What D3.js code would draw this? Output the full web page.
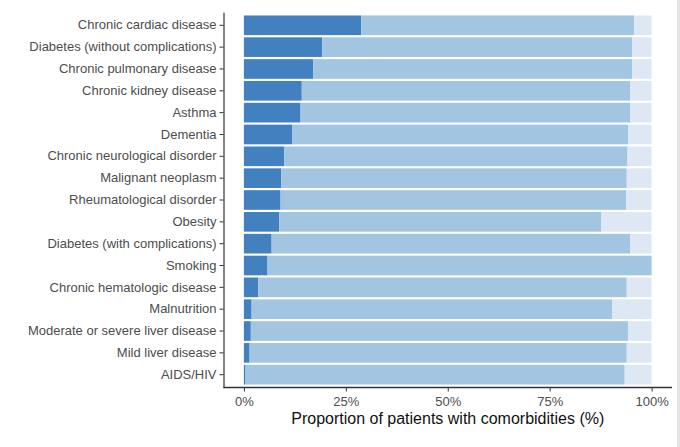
<!DOCTYPE html>
<html>
<head>
<meta charset="utf-8">
<script src="https://cdn.jsdelivr.net/npm/d3@7"></script>
<style>
	body { margin: 0; background: #fff; }
	svg { display: block; font-family: "Liberation Sans", Arial, sans-serif; }
</style>
</head>
<body>
<svg width="680" height="447"></svg>
<script>
// categories, top to bottom
var categories = [
	"Chronic cardiac disease", "Diabetes (without complications)", "Chronic pulmonary disease",
	"Chronic kidney disease", "Asthma", "Dementia", "Chronic neurological disorder",
	"Malignant neoplasm", "Rheumatological disorder", "Obesity", "Diabetes (with complications)",
	"Smoking", "Chronic hematologic disease", "Malnutrition", "Moderate or severe liver disease",
	"Mild liver disease", "AIDS/HIV"
];
// share with the comorbidity (%)
var yesValues = [28.8, 19.2, 17.0, 14.2, 13.9, 11.8, 9.9, 9.2, 9.0, 8.7, 6.8, 5.8, 3.5, 1.9, 1.7, 1.4, 0.4];
// share without it (%)
var noValues = [66.9, 76.0, 78.2, 80.6, 80.9, 82.5, 84.2, 84.7, 84.8, 79.0, 88.0, 94.2, 90.4, 88.4, 92.5, 92.5, 93.0];
// remainder is unknown
var unknownValues = yesValues.map(function (v, i) { return 100 - v - noValues[i]; });
var xTicks = [0, 25, 50, 75, 100];

var svg = d3.select("svg");

// grey strip at the right edge of the screenshot
svg.append("rect").attr("x", 677).attr("y", 0).attr("width", 3).attr("height", 447).attr("fill", "#e4e4e4");

var x = d3.scaleLinear().domain([-5, 105]).range([223.5, 672]);
var y = d3.scaleBand().domain(categories).range([12.2, 387.8]).paddingInner(0.1).paddingOuter(0.15);

var rows = categories.map(function (c, i) {
	var a = yesValues[i], b = a + noValues[i];
	return { cat: c, parts: [
		{ x0: 0, x1: a, color: "#4380c0" },
		{ x0: a, x1: b, color: "#a2c5e1" },
		{ x0: b, x1: b + unknownValues[i], color: "#dee8f5" }
	]};
});

var g = svg.append("g").selectAll("g").data(rows).enter().append("g");
g.selectAll("rect").data(function (d) { return d.parts.map(function (p) { p.cat = d.cat; return p; }); })
	.enter().append("rect")
	.attr("x", function (p) { return x(p.x0); })
	.attr("width", function (p) { return Math.max(0, x(p.x1) - x(p.x0)); })
	.attr("y", function (p) { return y(p.cat); })
	.attr("height", y.bandwidth())
	.attr("fill", function (p) { return p.color; });

// y axis
var yAxis = svg.append("g").attr("transform", "translate(223.5,0)")
	.call(d3.axisLeft(y).tickSize(4).tickSizeOuter(0).tickPadding(3));
yAxis.select(".domain").attr("stroke", "#333").attr("stroke-width", 1.2);
yAxis.selectAll(".tick line").attr("stroke", "#333");
yAxis.selectAll("text").attr("fill", "#4d4d4d").style("font-size", "13px");

// x axis
var xAxis = svg.append("g").attr("transform", "translate(0,387.5)")
	.call(d3.axisBottom(x).tickValues(xTicks).tickSize(4).tickSizeOuter(0).tickPadding(5)
		.tickFormat(function (d) { return d + "%"; }));
xAxis.select(".domain").attr("stroke", "#333").attr("stroke-width", 1.4)
	.attr("d", "M223.5,0H672");
xAxis.selectAll(".tick line").attr("stroke", "#333");
xAxis.selectAll("text").attr("fill", "#4d4d4d").style("font-size", "13px");

svg.append("text")
	.attr("x", x(50)).attr("y", 424)
	.attr("text-anchor", "middle")
	.style("font-size", "16px").attr("fill", "#111")
	.text("Proportion of patients with comorbidities (%)");
</script>
</body>
</html>
